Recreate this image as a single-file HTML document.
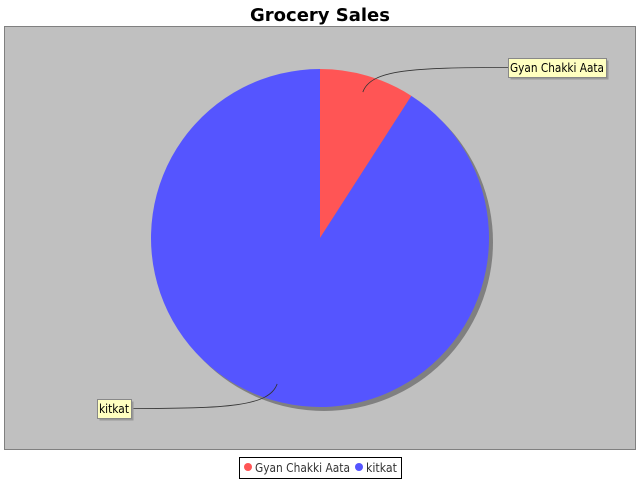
<!DOCTYPE html>
<html><head><meta charset="utf-8"><style>
body{margin:0;background:#fff;font-family:"DejaVu Sans","Liberation Sans",sans-serif}
</style></head><body>
<svg id="c" width="640" height="480" xmlns="http://www.w3.org/2000/svg">
<text x="320" y="21" text-anchor="middle" font-size="18" font-weight="bold" font-family="DejaVu Sans, Liberation Sans, sans-serif">Grocery Sales</text>
<rect x="4.5" y="26.5" width="631" height="423" fill="#c0c0c0" stroke="#808080"/>
<g id="pie"></g>
<g>
<rect x="239.5" y="457.5" width="162" height="21" fill="#fff" stroke="#000"/>
<circle cx="248" cy="467" r="4" fill="#ff5555"/>
<text x="255" y="472" font-size="12" fill="#333" textLength="95" lengthAdjust="spacingAndGlyphs">Gyan Chakki Aata</text>
<circle cx="359" cy="467" r="4" fill="#5555ff"/>
<text x="366" y="472" font-size="12" fill="#333" textLength="31" lengthAdjust="spacingAndGlyphs">kitkat</text>
</g>
</svg>
<script>
const categories=["Gyan Chakki Aata","kitkat"];
const values=[10,100];
const colors=["#ff5555","#5555ff"];
const NS="http://www.w3.org/2000/svg";
const g=document.getElementById('pie');
const cx=320,cy=238,r=169;
const total=values.reduce((a,b)=>a+b,0);
function pt(a,rr,ox,oy){return [ox+rr*Math.sin(a),oy-rr*Math.cos(a)];}
const sh=document.createElementNS(NS,'circle');


sh.setAttribute('cx',cx+4);sh.setAttribute('cy',cy+4);sh.setAttribute('r',r);sh.setAttribute('fill','#808080');
g.appendChild(sh);
let a0=0;
const mids=[];
values.forEach((v,i)=>{
  const a1=a0+v/total*2*Math.PI;
  const p0=pt(a0,r,cx,cy),p1=pt(a1,r,cx,cy);
  const large=(a1-a0)>Math.PI?1:0;
  const p=document.createElementNS(NS,'path');
  
  
  p.setAttribute('d',`M${cx},${cy}L${p0[0]},${p0[1]}A${r},${r} 0 ${large} 1 ${p1[0]},${p1[1]}Z`);
  p.setAttribute('fill',colors[i]);
  g.appendChild(p);
  mids.push((a0+a1)/2);
  a0=a1;
});
const boxes=[{x:508,y:58,w:98,tx:510,ty:72,tl:94},{x:97,y:399,w:34,tx:99,ty:413,tl:30}];
mids.forEach((m,i)=>{
  const s=pt(m,r*0.9,cx,cy);
  const b=boxes[i];
  const right=Math.sin(m)>0;
  const ex=right?b.x:b.x+b.w, ey=b.y+9.5;
  const dir=right?1:-1;
  const ln=document.createElementNS(NS,'path');
  
  
  ln.setAttribute('d',`M${s[0]},${s[1]}C${s[0]+dir*8},${ey+(right?2:-2)} ${s[0]+dir*50},${ey} ${ex},${ey}`);
  ln.setAttribute('fill','none');ln.setAttribute('stroke','#333');ln.setAttribute('stroke-width','0.8');
  g.appendChild(ln);
  const bs=document.createElementNS(NS,'rect');
  
  
  bs.setAttribute('x',b.x+2.5);bs.setAttribute('y',b.y+2.5);bs.setAttribute('width',b.w);bs.setAttribute('height',19);bs.setAttribute('fill','#999');
  g.appendChild(bs);
  const br=document.createElementNS(NS,'rect');
  
  
  br.setAttribute('x',b.x+0.5);br.setAttribute('y',b.y+0.5);br.setAttribute('width',b.w);br.setAttribute('height',19);br.setAttribute('fill','#ffffc0');br.setAttribute('stroke','#888');
  g.appendChild(br);
  const t=document.createElementNS(NS,'text');
  
  
  t.setAttribute('x',b.tx);t.setAttribute('y',b.ty);t.setAttribute('font-size','12');
  t.setAttribute('textLength',b.tl);t.setAttribute('lengthAdjust','spacingAndGlyphs');
  t.textContent=categories[i];
  g.appendChild(t);
});
</script>
</body></html>
